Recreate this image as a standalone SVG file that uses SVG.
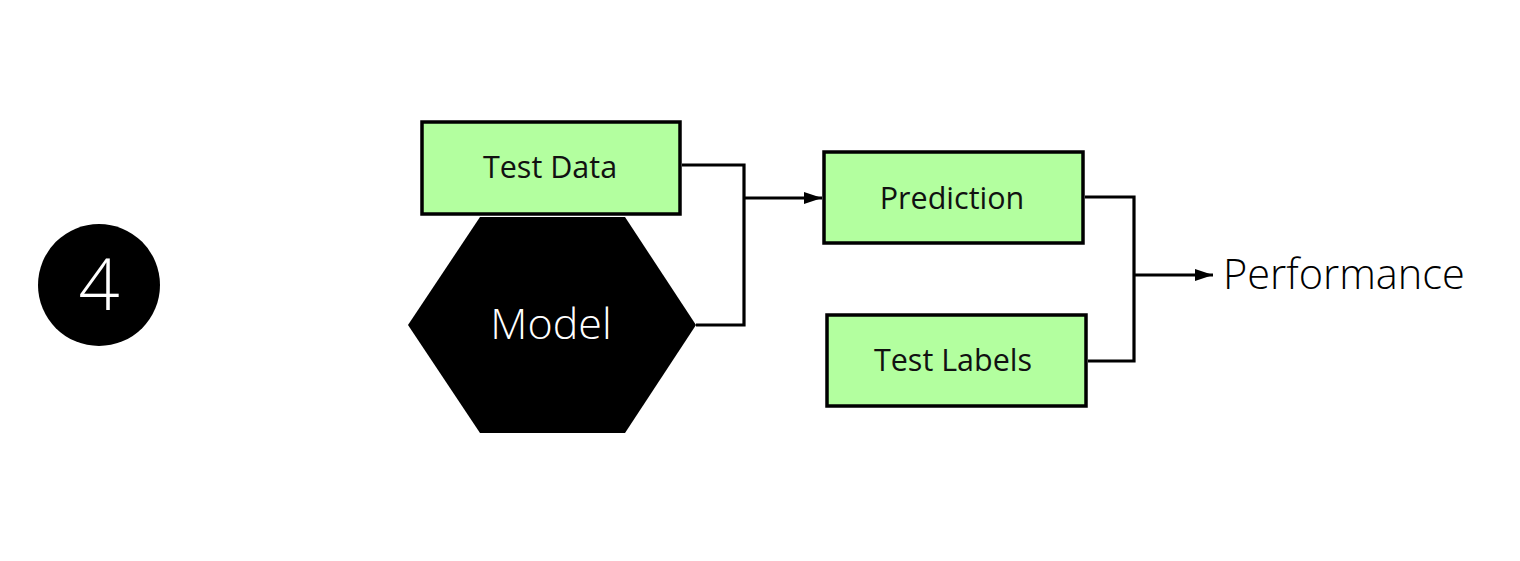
<svg xmlns="http://www.w3.org/2000/svg" width="1520" height="561" viewBox="0 0 1520 561">
<style>
.box{fill:#b3ff9f;stroke:#000;stroke-width:3.5}
.lbl{font-family:"Open Sans",Lato,sans-serif;font-size:30.5px;fill:#111;text-anchor:middle}
.wire{fill:none;stroke:#000;stroke-width:3.2}
</style>
<defs>
<marker id="ah" markerWidth="18" markerHeight="14" refX="18" refY="7" orient="auto" markerUnits="userSpaceOnUse">
<path d="M0,1 L18,7 L0,13 Z" fill="#000"/>
</marker>
</defs>
<rect width="1520" height="561" fill="#fff"/>
<g id="step">
<circle cx="99" cy="285" r="61" fill="#000"/>
<text x="99" y="310" font-family="'Open Sans',Lato,sans-serif" font-size="72" font-weight="300" fill="#fff" text-anchor="middle">4</text>
</g>
<g id="test-data">
<rect class="box" x="422" y="122" width="258" height="92"/>
<text class="lbl" x="550" y="178">Test Data</text>
</g>
<g id="model">
<polygon points="480,217 625,217 696,325 625,433 480,433 408,325" fill="#000"/>
<text x="551" y="339" font-family="'Open Sans',Lato,sans-serif" font-size="43" font-weight="300" fill="#fff" text-anchor="middle">Model</text>
</g>
<g id="prediction">
<rect class="box" x="824" y="152" width="259" height="91"/>
<text class="lbl" x="952" y="209">Prediction</text>
</g>
<g id="test-labels">
<rect class="box" x="827" y="315" width="259" height="91"/>
<text class="lbl" x="953" y="371">Test Labels</text>
</g>
<g id="performance">
<text x="1223" y="289" font-family="'Open Sans',Lato,sans-serif" font-size="41.5" font-weight="300" fill="#000">Performance</text>
</g>
<g id="connectors">
<polyline class="wire" points="682,165 744,165 744,325 696,325"/>
<line class="wire" x1="744" y1="198" x2="822" y2="198" marker-end="url(#ah)"/>
<polyline class="wire" points="1085,197 1134,197 1134,361 1088,361"/>
<line class="wire" x1="1134" y1="275" x2="1213" y2="275" marker-end="url(#ah)"/>
</g>
</svg>
